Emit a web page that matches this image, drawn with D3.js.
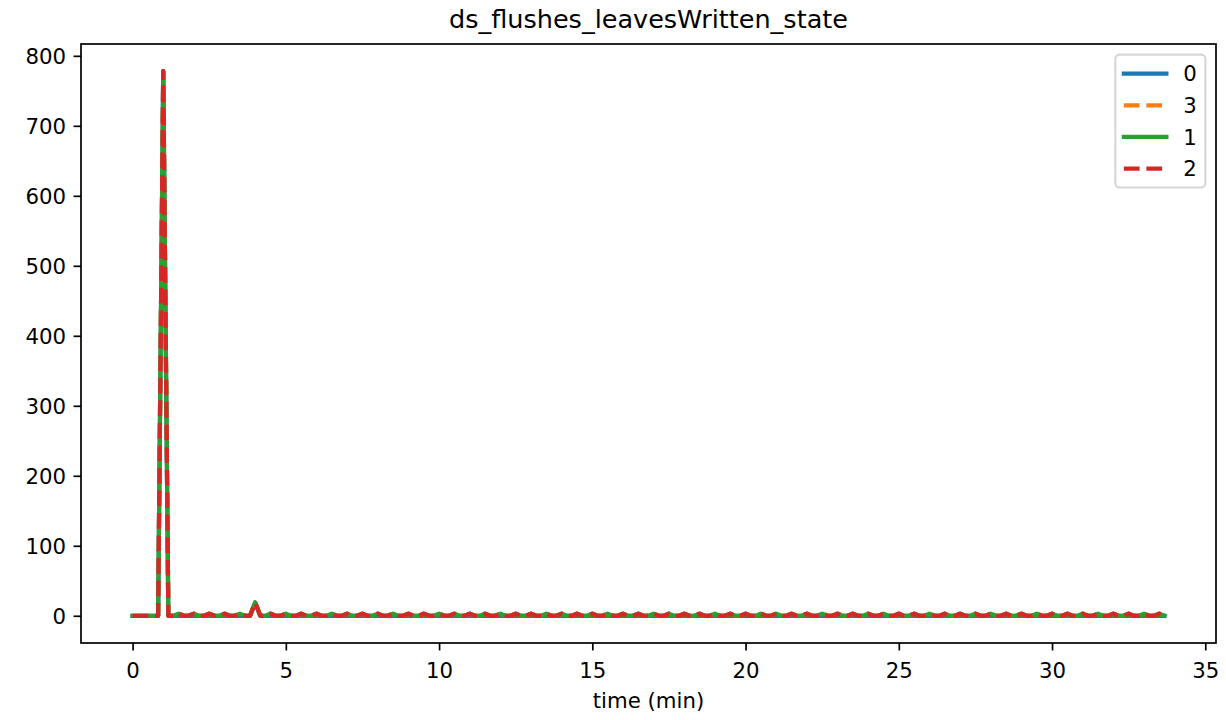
<!DOCTYPE html>
<html>
<head>
<meta charset="utf-8">
<script src="https://cdn.jsdelivr.net/npm/d3@7"></script>
<style>
  html, body { margin: 0; padding: 0; background: #fff; }
  svg { display: block; font-family: "DejaVu Sans", sans-serif; }
</style>
</head>
<body>
<svg id="chart" width="1226" height="720"></svg>
<script>
// ---------------- data ----------------
const chartTitle = "ds_flushes_leavesWritten_state";
const xLabel = "time (min)";

// sample times in seconds (10 s sampling)
const timeSec = [
  0,10,20,30,40,50,60,70,80,90,100,110,120,130,140,150,160,170,180,190,
  200,210,220,230,240,250,260,270,280,290,300,310,320,330,340,350,360,370,380,390,
  400,410,420,430,440,450,460,470,480,490,500,510,520,530,540,550,560,570,580,590,
  600,610,620,630,640,650,660,670,680,690,700,710,720,730,740,750,760,770,780,790,
  800,810,820,830,840,850,860,870,880,890,900,910,920,930,940,950,960,970,980,990,
  1000,1010,1020,1030,1040,1050,1060,1070,1080,1090,1100,1110,1120,1130,1140,1150,1160,1170,1180,1190,
  1200,1210,1220,1230,1240,1250,1260,1270,1280,1290,1300,1310,1320,1330,1340,1350,1360,1370,1380,1390,
  1400,1410,1420,1430,1440,1450,1460,1470,1480,1490,1500,1510,1520,1530,1540,1550,1560,1570,1580,1590,
  1600,1610,1620,1630,1640,1650,1660,1670,1680,1690,1700,1710,1720,1730,1740,1750,1760,1770,1780,1790,
  1800,1810,1820,1830,1840,1850,1860,1870,1880,1890,1900,1910,1920,1930,1940,1950,1960,1970,1980,1990,
  2000,2010,2020
];

const seriesNames = ["0", "3", "1", "2"];

const values0 = [
  0,0,0, 0,0,0, 778,0,0, 0,0,0, 0,0,0, 0,0,0, 0,0,0, 0,0,0, 19,0,0, 0,0,0,
  0,0,0, 0,0,0, 0,0,0, 0,0,0, 0,0,0, 0,0,0, 0,0,0, 0,0,0, 0,0,0, 0,0,0,
  0,0,0, 0,0,0, 0,0,0, 0,0,0, 0,0,0, 0,0,0, 0,0,0, 0,0,0, 0,0,0, 0,0,0,
  0,0,0, 0,0,0, 0,0,0, 0,0,0, 0,0,0, 0,0,0, 0,0,0, 0,0,0, 0,0,0, 0,0,0,
  0,0,0, 0,0,0, 0,0,0, 0,0,0, 0,0,0, 0,0,0, 0,0,0, 0,0,0, 0,0,0, 0,0,0,
  0,0,0, 0,0,0, 0,0,0, 0,0,0, 0,0,0, 0,0,0, 0,0,0, 0,0,0, 0,0,0, 0,0,0,
  0,0,0, 0,0,0, 0,0,0, 0,0,0, 0,0,0, 0,0,0, 0,0,0, 0,0
];
const values3 = [
  0,0,0, 0,0,0, 778,0,0, 3,0,0, 3,0,0, 3,0,0, 3,0,0, 3,0,0, 19,0,0, 3,0,0,
  3,0,0, 3,0,0, 3,0,0, 3,0,0, 3,0,0, 3,0,0, 3,0,0, 3,0,0, 3,0,0, 3,0,0,
  3,0,0, 3,0,0, 3,0,0, 3,0,0, 3,0,0, 3,0,0, 3,0,0, 3,0,0, 3,0,0, 3,0,0,
  3,0,0, 3,0,0, 3,0,0, 3,0,0, 3,0,0, 3,0,0, 3,0,0, 3,0,0, 3,0,0, 3,0,0,
  3,0,0, 3,0,0, 3,0,0, 3,0,0, 3,0,0, 5,0,0, 3,0,0, 3,0,0, 3,0,0, 3,0,0,
  3,0,0, 3,0,0, 3,0,0, 3,0,0, 3,0,0, 3,0,0, 3,0,0, 3,0,0, 3,0,0, 3,0,0,
  3,0,0, 3,0,0, 3,0,0, 3,0,0, 3,0,0, 3,0,0, 3,0,0, 3,0
];
const values1 = [
  0,0,0, 0,0,0, 778,0,0, 3,0,0, 3,0,0, 3,0,0, 3,0,0, 3,0,0, 19,0,0, 3,0,0,
  3,0,0, 3,0,0, 3,0,0, 3,0,0, 3,0,0, 3,0,0, 3,0,0, 3,0,0, 3,0,0, 3,0,0,
  3,0,0, 3,0,0, 3,0,0, 3,0,0, 3,0,0, 3,0,0, 3,0,0, 3,0,0, 3,0,0, 3,0,0,
  3,0,0, 3,0,0, 3,0,0, 3,0,0, 3,0,0, 3,0,0, 3,0,0, 3,0,0, 3,0,0, 3,0,0,
  3,0,0, 3,0,0, 3,0,0, 3,0,0, 3,0,0, 3,0,0, 3,0,0, 3,0,0, 3,0,0, 3,0,0,
  3,0,0, 3,0,0, 3,0,0, 3,0,0, 3,0,0, 3,0,0, 3,0,0, 3,0,0, 3,0,0, 3,0,0,
  3,0,0, 3,0,0, 3,0,0, 3,0,0, 3,0,0, 3,0,0, 3,0,0, 3,0
];
const values2 = [
  0,0,0, 0,0,0, 778,0,0, 3,0,0, 3,0,0, 3,0,0, 3,0,0, 3,0,0, 19,0,0, 3,0,0,
  3,0,0, 3,0,0, 3,0,0, 3,0,0, 3,0,0, 3,0,0, 3,0,0, 3,0,0, 3,0,0, 3,0,0,
  3,0,0, 3,0,0, 3,0,0, 3,0,0, 3,0,0, 3,0,0, 3,0,0, 3,0,0, 3,0,0, 3,0,0,
  3,0,0, 3,0,0, 3,0,0, 3,0,0, 3,0,0, 3,0,0, 3,0,0, 3,0,0, 3,0,0, 3,0,0,
  3,0,0, 3,0,0, 3,0,0, 3,0,0, 3,0,0, 3,0,0, 3,0,0, 3,0,0, 3,0,0, 3,0,0,
  3,0,0, 3,0,0, 3,0,0, 3,0,0, 3,0,0, 3,0,0, 3,0,0, 3,0,0, 3,0,0, 3,0,0,
  3,0,0, 3,0,0, 3,0,0, 3,0,0, 3,0,0, 3,0,0, 3,0,0, 3,0
];

const xTicks = [0, 5, 10, 15, 20, 25, 30, 35];
const yTicks = [0, 100, 200, 300, 400, 500, 600, 700, 800];

const seriesColors = ["#1f77b4", "#ff7f0e", "#2ca02c", "#d62728"];
const seriesDashed = [false, true, false, true];

// ---------------- layout ----------------
const W = 1226, H = 720;
const m = { left: 81, right: 1216, top: 44, bottom: 643 };
const pt = 2.125;              // px per point
const fs = 10 * pt;            // base font size
const lw = 2 * pt;             // line width
const dash = [3.7 * lw, 1.6 * lw];

const svg = d3.select("#chart");
svg.append("rect").attr("width", W).attr("height", H).attr("fill", "#fff");

const tMin = timeSec.map(s => s / 60);
const allVals = [values0, values3, values1, values2];
const xMin = d3.min(tMin), xMax = d3.max(tMin);
const yMin = d3.min(allVals.flat()), yMax = d3.max(allVals.flat());
const xPad = (xMax - xMin) * 0.05, yPad = (yMax - yMin) * 0.05;

const x = d3.scaleLinear().domain([xMin - xPad, xMax + xPad]).range([m.left, m.right]);
const y = d3.scaleLinear().domain([yMin - yPad, yMax + yPad]).range([m.bottom, m.top]);

// clip
svg.append("clipPath").attr("id", "clip")
  .append("rect").attr("x", m.left).attr("y", m.top)
  .attr("width", m.right - m.left).attr("height", m.bottom - m.top);

// lines
const line = d3.line().x(d => x(d[0])).y(d => y(d[1]));
const gLines = svg.append("g").attr("clip-path", "url(#clip)");
allVals.forEach((vals, i) => {
  const pts = tMin.map((t, j) => [t, vals[j]]);
  gLines.append("path")
    .attr("d", line(pts))
    .attr("fill", "none")
    .attr("stroke", seriesColors[i])
    .attr("stroke-width", lw)
    .attr("stroke-linejoin", "round")
    .attr("stroke-linecap", seriesDashed[i] ? "butt" : "square")
    .attr("stroke-dasharray", seriesDashed[i] ? dash.join(",") : null);
});

// axes
const tickLen = 3.5 * pt, tickPad = 3.5 * pt, spineW = 0.8 * pt;
const xAxis = d3.axisBottom(x).tickValues(xTicks).tickFormat(d3.format("d"))
  .tickSize(tickLen).tickPadding(tickPad);
const yAxis = d3.axisLeft(y).tickValues(yTicks).tickFormat(d3.format("d"))
  .tickSize(tickLen).tickPadding(tickPad);

const gx = svg.append("g").attr("transform", `translate(0,${m.bottom})`).call(xAxis);
const gy = svg.append("g").attr("transform", `translate(${m.left},0)`).call(yAxis);
[gx, gy].forEach(g => {
  g.select(".domain").remove();
  g.selectAll(".tick line").attr("stroke", "#000").attr("stroke-width", spineW);
  g.selectAll(".tick text").attr("fill", "#000")
    .style("font-family", "DejaVu Sans").style("font-size", fs + "px");
});
gx.selectAll(".tick text").attr("dy", null).attr("y", 678 - m.bottom);
gy.selectAll(".tick text").attr("dy", null).attr("y", 0.365 * fs);

// frame
svg.append("rect")
  .attr("x", m.left).attr("y", m.top)
  .attr("width", m.right - m.left).attr("height", m.bottom - m.top)
  .attr("fill", "none").attr("stroke", "#000").attr("stroke-width", spineW);

// title & label
svg.append("text").attr("x", (m.left + m.right) / 2).attr("y", 28)
  .attr("text-anchor", "middle").style("font-size", (12 * pt) + "px")
  .attr("fill", "#000").text(chartTitle);
svg.append("text").attr("x", (m.left + m.right) / 2).attr("y", 708)
  .attr("text-anchor", "middle").style("font-size", fs + "px")
  .attr("fill", "#000").text(xLabel);

// legend
const borderPad = 0.4 * fs, labelSp = 0.5 * fs, handleLen = 2 * fs,
      handlePad = 0.8 * fs, axPad = 0.5 * fs, rowH = 21;
const legRight = m.right - axPad, legTop = m.top + axPad;
const textW = d3.max(seriesNames, s => s.length * 0.636 * fs);
const legW = borderPad * 2 + handleLen + handlePad + textW;
const legH = borderPad * 2 + seriesNames.length * rowH + (seriesNames.length - 1) * labelSp;
const legLeft = legRight - legW;
const gLeg = svg.append("g");
gLeg.append("rect")
  .attr("x", legLeft).attr("y", legTop).attr("width", legW).attr("height", legH)
  .attr("rx", 0.2 * fs).attr("ry", 0.2 * fs)
  .attr("fill", "#fff").attr("fill-opacity", 0.8)
  .attr("stroke", "#cccccc").attr("stroke-opacity", 0.8).attr("stroke-width", 1 * pt);
seriesNames.forEach((name, i) => {
  const cy = legTop + borderPad + rowH / 2 + i * (rowH + labelSp);
  const x0 = legLeft + borderPad;
  gLeg.append("line")
    .attr("x1", x0).attr("x2", x0 + handleLen).attr("y1", cy).attr("y2", cy)
    .attr("stroke", seriesColors[i]).attr("stroke-width", lw)
    .attr("stroke-linecap", seriesDashed[i] ? "butt" : "square")
    .attr("stroke-dasharray", seriesDashed[i] ? dash.join(",") : null);
  gLeg.append("text")
    .attr("x", x0 + handleLen + handlePad).attr("y", cy + 0.365 * fs)
    .style("font-size", fs + "px").attr("fill", "#000").text(name);
});
</script>
</body>
</html>
